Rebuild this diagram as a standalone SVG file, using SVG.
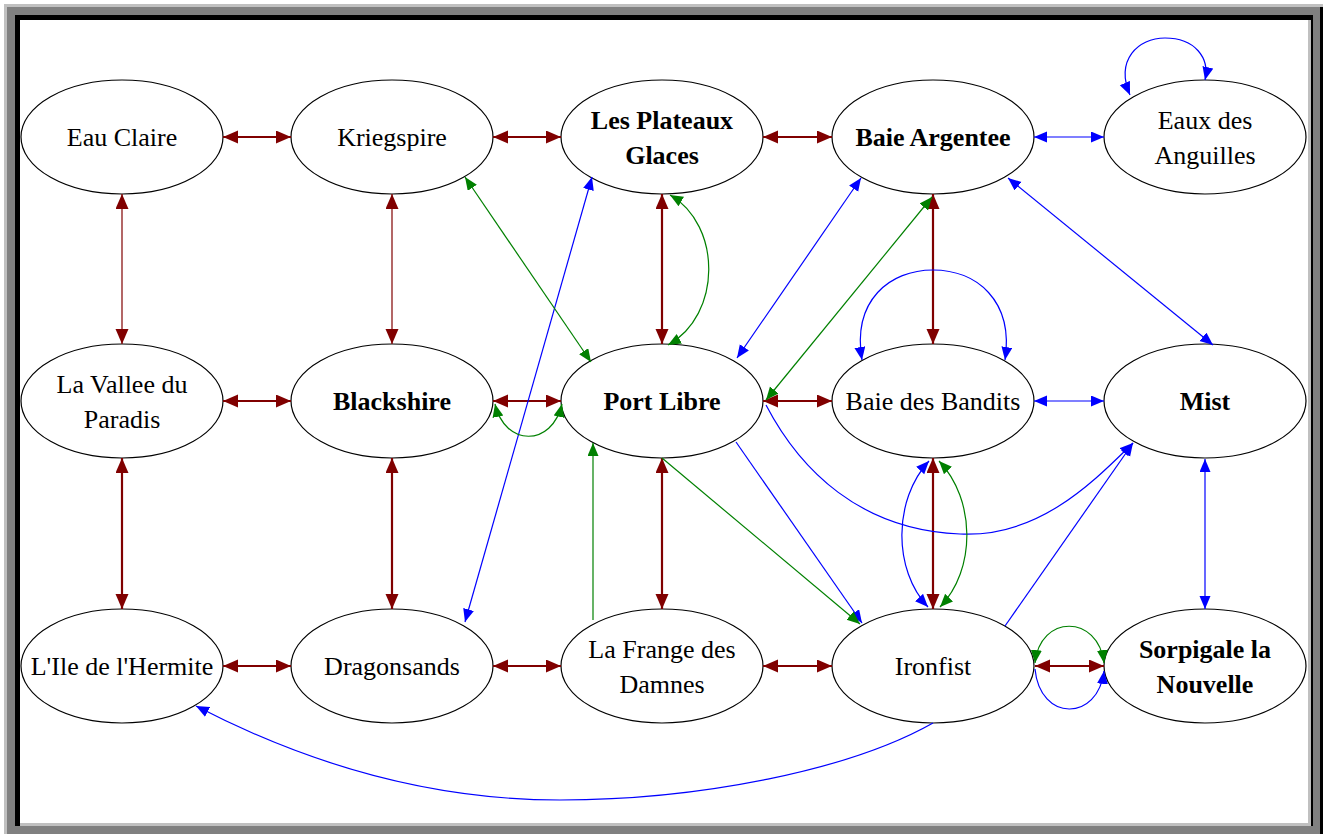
<svg xmlns="http://www.w3.org/2000/svg" width="1327" height="834" viewBox="0 0 1327 834">
<style>
.n ellipse{fill:#fff;stroke:#000;stroke-width:1.2}
.n text{font-family:"Liberation Serif","Times New Roman",serif;font-size:26px;text-anchor:middle;fill:#000}
.b text{font-weight:bold}
.e path{fill:none}
.r{stroke:#800000;stroke-width:2.2}
.rt{stroke:#800000;stroke-width:1.2}
.bl{stroke:#0000ff;stroke-width:1.2}
.g{stroke:#008000;stroke-width:1.2}
.r,.rt{marker-start:url(#mr);marker-end:url(#mr)}
.bl.d{marker-start:url(#mb);marker-end:url(#mb)}
.bl.s{marker-end:url(#mb)}
.g.d{marker-start:url(#mg);marker-end:url(#mg)}
.g.s{marker-end:url(#mg)}
</style>
<defs>
<marker id="mr" markerUnits="userSpaceOnUse" markerWidth="16" markerHeight="14" refX="15" refY="6.5" orient="auto-start-reverse"><path d="M0,0 L15,6.5 L0,13 z" fill="#800000"/></marker>
<marker id="mb" markerUnits="userSpaceOnUse" markerWidth="14" markerHeight="12" refX="13" refY="5.5" orient="auto-start-reverse"><path d="M0,0 L13,5.5 L0,11 z" fill="#0000ff"/></marker>
<marker id="mg" markerUnits="userSpaceOnUse" markerWidth="14" markerHeight="12" refX="13" refY="5.5" orient="auto-start-reverse"><path d="M0,0 L13,5.5 L0,11 z" fill="#008000"/></marker>
</defs>
<rect width="1327" height="834" fill="#fff"/>
<g id="frame">
<rect x="4" y="4" width="1319" height="830" fill="#c0c0c0"/>
<rect x="7" y="7" width="1313" height="827" fill="#808080"/>
<rect x="1320" y="7" width="3" height="827" fill="#000"/>
<rect x="15" y="15" width="1298" height="811" fill="#000"/>
<rect x="20" y="20" width="1291" height="806" fill="#c0c0c0"/>
<rect x="20" y="20" width="1288" height="803" fill="#fff"/>
</g>
<g id="nodes">
<g id="eau-claire" class="n"><ellipse cx="122" cy="137" rx="101" ry="57"/><text x="122" y="146">Eau Claire</text></g>
<g id="kriegspire" class="n"><ellipse cx="392" cy="137" rx="101" ry="57"/><text x="392" y="146">Kriegspire</text></g>
<g id="les-plateaux-glaces" class="n b"><ellipse cx="662" cy="137" rx="101" ry="57"/><text x="662" y="129">Les Plateaux</text><text x="662" y="164">Glaces</text></g>
<g id="baie-argentee" class="n b"><ellipse cx="933" cy="137" rx="101" ry="57"/><text x="933" y="146">Baie Argentee</text></g>
<g id="eaux-des-anguilles" class="n"><ellipse cx="1205" cy="137" rx="101" ry="57"/><text x="1205" y="129">Eaux des</text><text x="1205" y="164">Anguilles</text></g>
<g id="la-vallee-du-paradis" class="n"><ellipse cx="122" cy="401" rx="101" ry="57"/><text x="122" y="393">La Vallee du</text><text x="122" y="428">Paradis</text></g>
<g id="blackshire" class="n b"><ellipse cx="392" cy="401" rx="101" ry="57"/><text x="392" y="410">Blackshire</text></g>
<g id="port-libre" class="n b"><ellipse cx="662" cy="401" rx="101" ry="57"/><text x="662" y="410">Port Libre</text></g>
<g id="baie-des-bandits" class="n"><ellipse cx="933" cy="401" rx="101" ry="57"/><text x="933" y="410">Baie des Bandits</text></g>
<g id="mist" class="n b"><ellipse cx="1205" cy="401" rx="101" ry="57"/><text x="1205" y="410">Mist</text></g>
<g id="l-ile-de-l-hermite" class="n"><ellipse cx="122" cy="666" rx="101" ry="57"/><text x="122" y="675">L'Ile de l'Hermite</text></g>
<g id="dragonsands" class="n"><ellipse cx="392" cy="666" rx="101" ry="57"/><text x="392" y="675">Dragonsands</text></g>
<g id="la-frange-des-damnes" class="n"><ellipse cx="662" cy="666" rx="101" ry="57"/><text x="662" y="658">La Frange des</text><text x="662" y="693">Damnes</text></g>
<g id="ironfist" class="n"><ellipse cx="933" cy="666" rx="101" ry="57"/><text x="933" y="675">Ironfist</text></g>
<g id="sorpigale-la-nouvelle" class="n b"><ellipse cx="1205" cy="666" rx="101" ry="57"/><text x="1205" y="658">Sorpigale la</text><text x="1205" y="693">Nouvelle</text></g>
</g>
<g id="connectors" class="e">
<path class="r" d="M223,137 L291,137"/>
<path class="r" d="M493,137 L561,137"/>
<path class="r" d="M763,137 L832,137"/>
<path class="r" d="M223,401 L291,401"/>
<path class="r" d="M493,401 L561,401"/>
<path class="r" d="M763,401 L832,401"/>
<path class="r" d="M223,666 L291,666"/>
<path class="r" d="M493,666 L561,666"/>
<path class="r" d="M763,666 L832,666"/>
<path class="r" d="M1035,666 L1104,666"/>
<path class="rt" d="M122,194 L122,344"/>
<path class="rt" d="M392,194 L392,344"/>
<path class="r" d="M662,194 L662,344"/>
<path class="r" d="M933,194 L933,344"/>
<path class="r" d="M122,458 L122,609"/>
<path class="r" d="M392,458 L392,609"/>
<path class="r" d="M662,458 L662,609"/>
<path class="r" d="M933,458 L933,609"/>
<path class="bl d" d="M1034,137 L1104,137"/>
<path class="bl d" d="M1130,95 C1115,60 1138,38 1165,38 C1195,38 1210,58 1205,80"/>
<path class="bl d" d="M1008,178 L1213,345"/>
<path class="bl d" d="M861,178 L737,358"/>
<path class="bl d" d="M862,360 C852,300 890,270 933,270 C976,270 1014,300 1005,360"/>
<path class="bl d" d="M1034,401 L1104,401"/>
<path class="bl d" d="M1205,459 L1205,609"/>
<path class="bl d" d="M592,177 L465,622"/>
<path class="bl s" d="M736,442 L862,623"/>
<path class="bl s" d="M766,405 C800,470 860,530 960,534 C1040,538 1095,480 1133,443"/>
<path class="bl s" d="M1005,626 L1133,443"/>
<path class="bl s" d="M933,723 C850,770 700,800 560,800 C420,800 300,760 196,706"/>
<path class="bl d" d="M928,607 C893,570 893,500 929,461"/>
<path class="bl s" d="M1035,669 C1040,722 1098,722 1104,671"/>
<path class="g d" d="M465,177 L591,362"/>
<path class="g d" d="M670,195 C722,225 722,315 668,345"/>
<path class="g d" d="M932,197 L766,400"/>
<path class="g d" d="M495,404 C505,447 552,447 562,404"/>
<path class="g s" d="M593,620 L593,443"/>
<path class="g s" d="M662,458 L860,624"/>
<path class="g d" d="M939,461 C976,500 976,570 940,607"/>
<path class="g d" d="M1035,663 C1040,614 1098,614 1104,663"/>
</g>
</svg>
